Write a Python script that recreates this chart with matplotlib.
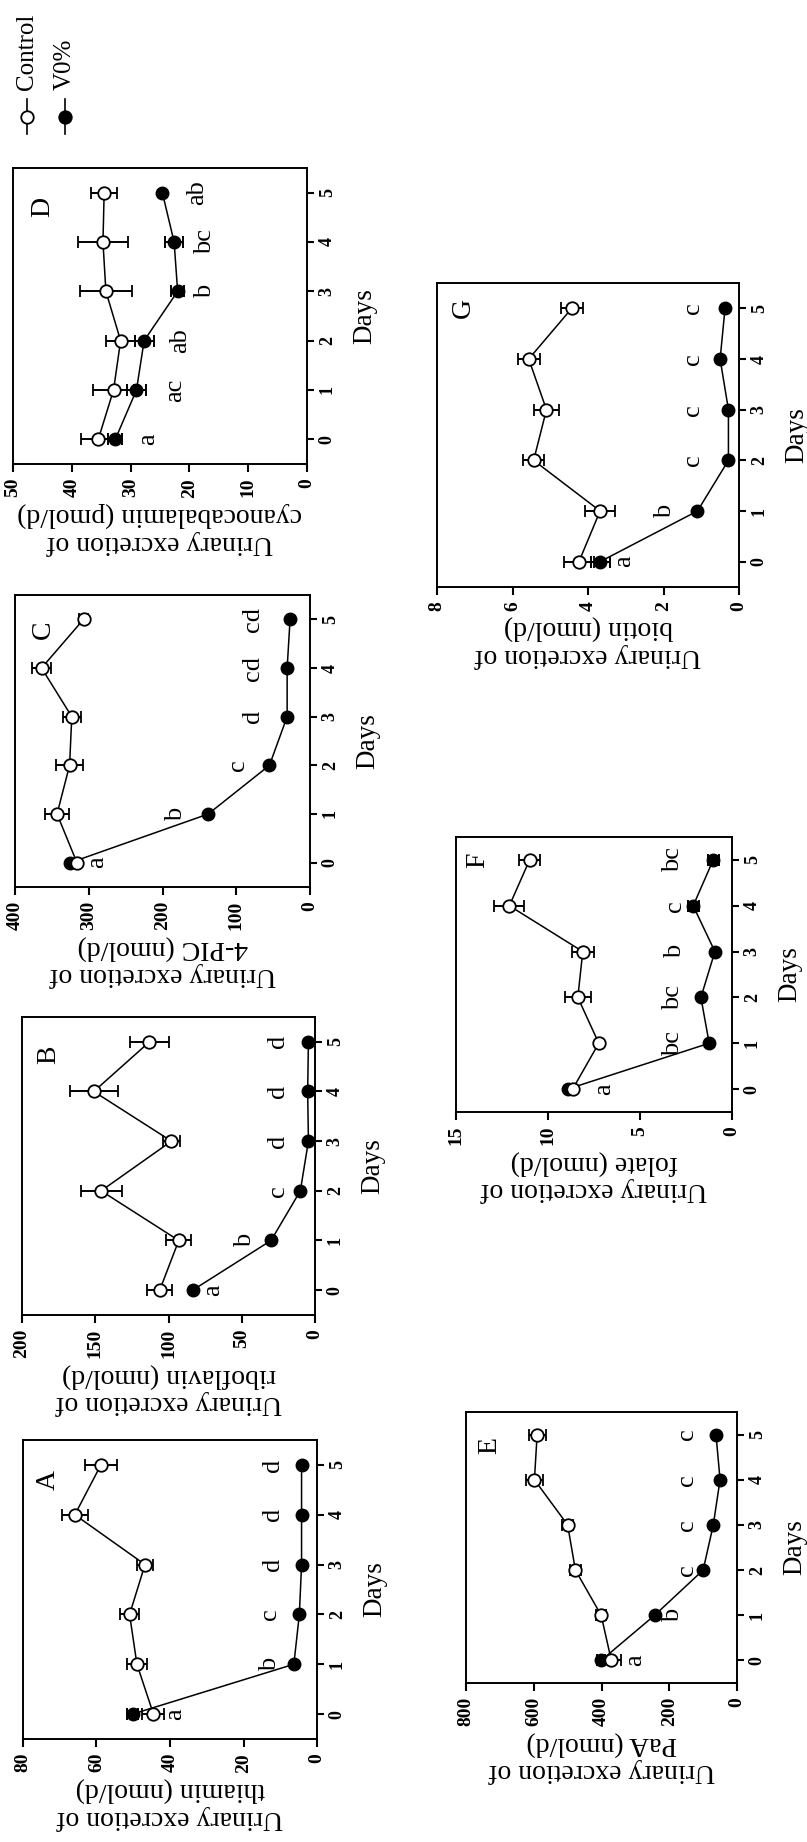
import matplotlib
matplotlib.use('Agg')
import matplotlib.pyplot as plt

plt.rcParams['font.family'] = ['Liberation Serif', 'DejaVu Serif']

W, H = 807, 1842
days = [0, 1, 2, 3, 4, 5]
day_ticks = [0, 1, 2, 3, 4, 5]

# ---- Panel A: thiamin ----
a_ctrl = [44.5, 49.0, 51.0, 46.8, 65.9, 58.8]
a_ctrl_err = [3.0, 2.7, 2.7, 2.3, 3.6, 4.3]
a_v0 = [50.2, 6.3, 4.8, 4.2, 4.2, 4.2]
a_v0_err = [1.5, 0, 0, 0, 0, 0]
a_letters = ['a', 'b', 'c', 'd', 'd', 'd']
a_ticks = [0, 20, 40, 60, 80]

# ---- Panel B: riboflavin ----
b_ctrl = [106, 93, 146, 98, 151, 113]
b_ctrl_err = [8.5, 8.5, 14, 6, 16.5, 13.6]
b_v0 = [83.5, 30, 10, 4.5, 5, 4.5]
b_v0_err = [0, 0, 0, 0, 0, 0]
b_letters = ['a', 'b', 'c', 'd', 'd', 'd']
b_ticks = [0, 50, 100, 150, 200]

# ---- Panel C: 4-PIC ----
c_ctrl = [316, 343, 326, 323, 364, 307]
c_ctrl_err = [0, 16, 18, 12, 13, 6]
c_v0 = [325, 138, 55, 31, 31, 27]
c_v0_err = [0, 0, 0, 0, 0, 0]
c_letters = ['a', 'b', 'c', 'd', 'cd', 'cd']
c_ticks = [0, 100, 200, 300, 400]

# ---- Panel D: cyanocabalamin ----
d_ctrl = [35.5, 32.9, 31.7, 34.2, 34.7, 34.5]
d_ctrl_err = [3.0, 3.5, 2.5, 4.4, 4.25, 2.2]
d_v0 = [32.6, 29.0, 27.7, 22.0, 22.6, 24.6]
d_v0_err = [1.2, 1.6, 1.6, 1.1, 1.5, 0]
d_letters = ['a', 'ac', 'ab', 'b', 'bc', 'ab']
d_ticks = [0, 10, 20, 30, 40, 50]

# ---- Panel E: PaA ----
e_ctrl = [371, 401, 477, 500, 598, 590]
e_ctrl_err = [30, 15, 17, 17, 25, 25]
e_v0 = [401, 243, 100, 70, 50, 62]
e_v0_err = [12, 0, 0, 0, 0, 0]
e_letters = ['a', 'b', 'c', 'c', 'c', 'c']
e_ticks = [0, 200, 400, 600, 800]

# ---- Panel F: folate ----
f_ctrl = [8.66, 7.24, 8.38, 8.11, 12.1, 11.0]
f_ctrl_err = [0, 0, 0.71, 0.6, 0.82, 0.55]
f_v0 = [8.93, 1.24, 1.69, 0.93, 2.11, 1.02]
f_v0_err = [0, 0, 0, 0, 0.3, 0.3]
f_letters = ['a', 'bc', 'bc', 'b', 'c', 'bc']
f_ticks = [0, 5, 10, 15]

# ---- Panel G: biotin ----
g_ctrl = [4.24, 3.68, 5.44, 5.10, 5.57, 4.43]
g_ctrl_err = [0.39, 0.40, 0.27, 0.34, 0.29, 0.29]
g_v0 = [3.68, 1.10, 0.28, 0.28, 0.50, 0.37]
g_v0_err = [0.25, 0, 0, 0, 0, 0]
g_letters = ['a', 'b', 'c', 'c', 'c', 'c']
g_ticks = [0, 2, 4, 6, 8]

ylabels = {
    'A': 'Urinary excretion of\nthiamin (nmol/d)',
    'B': 'Urinary excretion of\nriboflavin (nmol/d)',
    'C': 'Urinary excretion of\n4-PIC (nmol/d)',
    'D': 'Urinary excretion of\ncyanocabalamin (pmol/d)',
    'E': 'Urinary excretion of\nPaA (nmol/d)',
    'F': 'Urinary excretion of\nfolate (nmol/d)',
    'G': 'Urinary excretion of\nbiotin (nmol/d)',
}

# layout (pixel boxes of each panel frame in the rotated page) and label placement
rects = {
    'D': (13, 168, 307, 464),
    'C': (15, 595, 310, 887),
    'B': (22, 1017, 315, 1315),
    'A': (23, 1440, 317, 1739),
    'G': (437, 283, 739, 587),
    'F': (456, 837, 732, 1112),
    'E': (466, 1412, 737, 1683),
}
letter_pos = {
    'A': [38.6, 12.8, 12.8, 12.0, 12.0, 12.0],
    'B': [69.6, 47.8, 25, 25, 25, 25],
    'C': [289, 181, 97, 77, 77, 77],
    'D': [27, 22.4, 21.6, 17.3, 17.3, 18.7],
    'E': [302, 190, 148, 148, 148, 148],
    'F': [6.93, 3.2, 3.2, 3.1, 3.1, 3.2],
    'G': [3.04, 1.97, 1.23, 1.23, 1.23, 1.23],
}
panel_letter_xy = {
    'A': (0.085, 0.866), 'B': (0.09, 0.872), 'C': (0.095, 0.88), 'D': (0.10, 0.868),
    'E': (0.089, 0.878), 'F': (0.08, 0.916), 'G': (0.086, 0.918),
}

panels = {
    'A': (a_ctrl, a_ctrl_err, a_v0, a_v0_err, a_letters, a_ticks),
    'B': (b_ctrl, b_ctrl_err, b_v0, b_v0_err, b_letters, b_ticks),
    'C': (c_ctrl, c_ctrl_err, c_v0, c_v0_err, c_letters, c_ticks),
    'D': (d_ctrl, d_ctrl_err, d_v0, d_v0_err, d_letters, d_ticks),
    'E': (e_ctrl, e_ctrl_err, e_v0, e_v0_err, e_letters, e_ticks),
    'F': (f_ctrl, f_ctrl_err, f_v0, f_v0_err, f_letters, f_ticks),
    'G': (g_ctrl, g_ctrl_err, g_v0, g_v0_err, g_letters, g_ticks),
}

fig = plt.figure(figsize=(W / 100, H / 100), dpi=100)
fig.patch.set_facecolor('white')


def px_rect(x0, y0, x1, y1):
    return [x0 / W, 1 - y1 / H, (x1 - x0) / W, (y1 - y0) / H]


MS = 9
for key, (ctrl, ctrl_err, v0, v0_err, letters, ticks) in panels.items():
    ax = fig.add_axes(px_rect(*rects[key]))
    # V0% (filled)
    ax.errorbar(v0, days, xerr=v0_err, fmt='-o', color='black', mfc='black', mec='black',
                ms=MS, lw=1.1, elinewidth=1.4, capsize=4, capthick=1.4, zorder=3)
    # Control (open)
    ax.errorbar(ctrl, days, xerr=ctrl_err, fmt='-o', color='black', mfc='white', mec='black',
                mew=1.3, ms=MS, lw=1.1, elinewidth=1.4, capsize=4, capthick=1.4, zorder=4)
    for d, lab, xp in zip(days, letters, letter_pos[key]):
        ax.text(xp, d, lab, rotation=90, ha='center', va='center', fontsize=19, zorder=5)
    px, py = panel_letter_xy[key]
    ax.text(px, py, key, transform=ax.transAxes, rotation=90, ha='center', va='center',
            fontsize=20)

    ax.set_xlim(ticks[-1], 0)
    ax.set_ylim(-0.5, 5.5)
    ax.set_xticks(ticks)
    ax.set_xticklabels([str(t) for t in ticks], rotation=90, fontweight='bold', fontsize=14)
    ax.yaxis.tick_right()
    ax.yaxis.set_label_position('right')
    ax.set_yticks(day_ticks)
    ax.set_yticklabels([str(t) for t in day_ticks], rotation=90, fontweight='bold',
                       fontsize=13, va='center')
    ax.tick_params(axis='x', direction='out', length=6, width=1.5, pad=4)
    ax.tick_params(axis='y', direction='out', length=5, width=1.5, pad=3.5)
    for s in ax.spines.values():
        s.set_linewidth(1.4)
    ax.set_xlabel(ylabels[key], rotation=180, fontsize=20, labelpad=3, linespacing=1.15,
                  multialignment='center')
    ax.set_ylabel('Days', rotation=90, fontsize=19.5, labelpad=12)

# legend (drawn in page pixel coordinates)
lg = fig.add_axes([0, 0, 1, 1], zorder=-1)
lg.set_xlim(0, W)
lg.set_ylim(H, 0)
lg.axis('off')
leg_items = [('Control', 'white', 27), ('V0%', 'black', 65)]
for name, fc, x in leg_items:
    lg.plot([x, x], [99, 134], color='black', lw=1.2)
    lg.plot([x], [117], 'o', mfc=fc, mec='black', mew=1.3, ms=MS, color='black')
    lg.text(x, 90, name, rotation=90, ha='center', va='bottom', fontsize=18)

fig.savefig('out.png', dpi=100, facecolor='white')
